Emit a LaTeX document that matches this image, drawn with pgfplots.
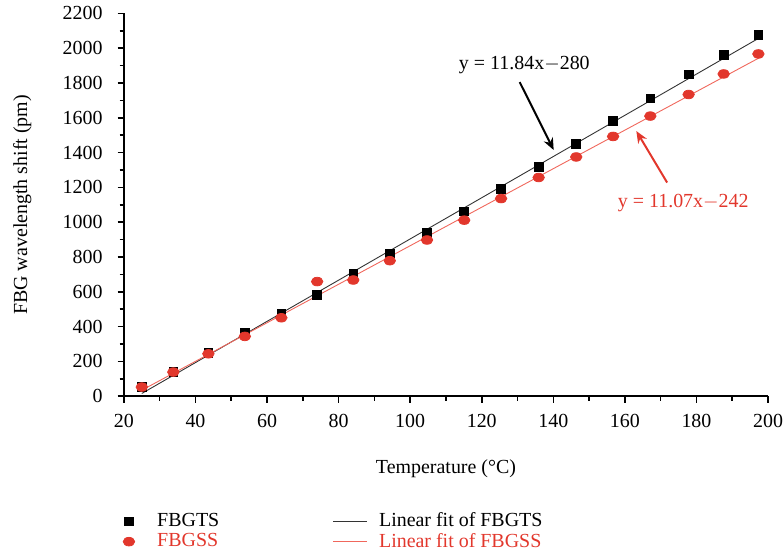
\documentclass[border=0pt]{standalone}
\usepackage{pgfplots}
\pgfplotsset{compat=1.18}
\usepackage{pgfplotstable}
\usepackage{fontspec}
\setmainfont{Liberation Serif}
\usetikzlibrary{arrows.meta}
\definecolor{ssred}{HTML}{E2372C}
\definecolor{fitred}{HTML}{F0675C}
\definecolor{fitblack}{HTML}{333333}

\pgfplotstableread{
T    shift
25.0   53
33.8  139
43.6  248
53.8  363
64.0  474
74.0  584
84.1  703
94.3  821
104.7 938
115.1 1062
125.4 1190
135.9 1318
146.4 1448
156.7 1581
167.1 1711
177.8 1849
187.6 1963
197.3 2078
}\gts

\pgfplotstableread{
T    shift
25.0   53
33.8  139
43.6  244
53.8  344
64.0  451
74.0  659
84.1  668
94.3  779
104.7 898
115.1 1012
125.4 1136
135.9 1257
146.4 1375
156.7 1493
167.1 1610
177.8 1734
187.6 1852
197.3 1967
}\gss

\begin{document}
\begin{tikzpicture}
\begin{axis}[
    name=main,
    scale only axis,
    width=323pt, height=192pt,
    xmin=20, xmax=200, ymin=0, ymax=2200,
    xtick={20,40,...,200}, ytick={0,200,...,2200},
    minor tick num=1,
    axis lines=left, axis line style={-, line width=0.9pt},
    tick align=outside, tick style={line width=0.8pt, black},
    major tick length=3.2pt, minor tick length=2.2pt,
    clip=false,
    font=\fontsize{10}{12}\selectfont,
    /pgf/number format/assume math mode=true,
    /pgf/number format/1000 sep={},
    yticklabel style={xshift=-4pt},
    xticklabel style={yshift=-2.5pt, inner xsep=0pt},
    xlabel={Temperature (°C)},
    ylabel={FBG wavelength shift (pm)},
    xlabel style={at={(axis description cs:0.5,-0.19)}, anchor=center},
    ylabel style={at={(axis description cs:-0.158,0.5)}, anchor=center, inner sep=0pt},
    legend columns=2,
    legend cell align=left,
    legend style={draw=none, fill=none, at={(axis description cs:-0.011,-0.289)}, anchor=north west,
        font=\fontsize{10}{10}\selectfont,
        nodes={inner sep=0.8pt},
        /tikz/column 1/.style={column sep=10.5pt},
        /tikz/column 2/.style={column sep=56pt},
        /tikz/column 3/.style={column sep=5pt}},
]
\addplot[only marks, mark=square*, mark size=2.2pt, black] table[x=T, y=shift] {\gts};
\addlegendentry{FBGTS}
\addplot[fitblack, line width=0.45pt] coordinates {(25,16) (197.5,2058.4)};
\addlegendentry{Linear fit of FBGTS}
\addplot[only marks, mark=*, mark size=2.4pt, ssred, mark options={xscale=1.2, yscale=0.9}] table[x=T, y=shift] {\gss};
\addlegendentry{\textcolor{ssred}{FBGSS}}
\addplot[fitred, line width=0.45pt] coordinates {(25,34.8) (197.5,1944.3)};
\addlegendentry{\textcolor{ssred}{Linear fit of FBGSS}}

\node at (axis cs:131.9,1902) {y = 11.84x$-$280};
\draw[-{Stealth[length=6pt,width=5pt]}, line width=1pt, black] (axis cs:130.6,1805) -- (axis cs:140.1,1415);
\node[text=ssred] at (axis cs:176.3,1111) {y = 11.07x$-$242};
\draw[-{Stealth[length=6pt,width=5pt]}, line width=1pt, ssred] (axis cs:171.8,1228) -- (axis cs:163.2,1524);
\end{axis}
\path ([xshift=-6.5pt]main.outer west);
\end{tikzpicture}
\end{document}
